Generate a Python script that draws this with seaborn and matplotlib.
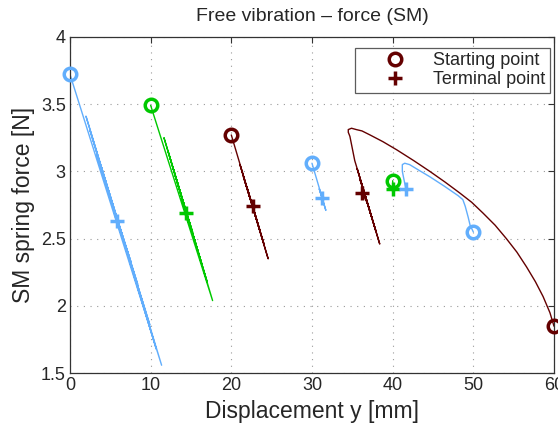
import matplotlib
matplotlib.use('Agg')
import matplotlib.pyplot as plt
import seaborn as sns
from matplotlib.lines import Line2D

# trajectories (turning points of each oscillation)
blue0_x = [0, 11.36, 1.98, 10.7, 2.5, 9.9, 3.3, 9.3, 3.9, 8.4, 4.6, 7.6, 5.1, 6.7, 5.5, 5.79]
blue0_y = [3.72, 1.56, 3.41, 1.68, 3.30, 1.86, 3.12, 1.97, 3.03, 2.16, 2.88, 2.32, 2.78, 2.47, 2.69, 2.63]

green10_x = [10, 17.68, 11.65, 17.0, 12.2, 16.4, 12.8, 15.8, 13.3, 15.2, 13.8, 14.7, 14.34]
green10_y = [3.49, 2.04, 3.25, 2.18, 3.14, 2.3, 3.02, 2.42, 2.92, 2.55, 2.8, 2.62, 2.69]

red20_x = [20, 24.57, 21.07, 24.1, 21.5, 23.6, 22.0, 23.2, 22.4, 22.64]
red20_y = [3.27, 2.35, 3.05, 2.45, 2.96, 2.55, 2.87, 2.63, 2.79, 2.74]

blue30_x = [30, 31.72, 30.9, 31.4, 31.23]
blue30_y = [3.06, 2.71, 2.87, 2.77, 2.80]

green40_x = [40, 40.07]
green40_y = [2.93, 2.87]

blue50_x = [50, 49.6, 49.36, 49.0, 48.7, 48.1, 46.4, 44.6, 43.2, 42.1, 41.5, 41.2, 41.2, 41.4, 41.64]
blue50_y = [2.55, 2.60, 2.66, 2.74, 2.79, 2.82, 2.89, 2.96, 3.01, 3.05, 3.06, 3.05, 3.00, 2.94, 2.87]

red60_x = [60, 59.5, 58.65, 57.7, 56.6, 55.4, 54.1, 52.7, 51.2, 49.8, 48.3, 46.5, 44.6, 42.6,
           40.5, 38.8, 37.2, 36.2, 35.5, 34.9, 34.5, 34.5, 34.7, 35.3,
           38.4, 35.6, 37.9, 35.9, 37.4, 36.3, 36.9, 36.2]
red60_y = [1.85, 1.95, 2.07, 2.18, 2.29, 2.40, 2.50, 2.60, 2.69, 2.77, 2.84, 2.92, 3.00, 3.08,
           3.16, 3.22, 3.27, 3.30, 3.31, 3.32, 3.31, 3.29, 3.26, 3.08,
           2.46, 3.02, 2.56, 2.95, 2.66, 2.88, 2.76, 2.84]

blue = '#62aefc'
green = '#00c800'
red = '#640000'

series = [
    (blue0_x, blue0_y, blue),
    (green10_x, green10_y, green),
    (red20_x, red20_y, red),
    (blue30_x, blue30_y, blue),
    (green40_x, green40_y, green),
    (blue50_x, blue50_y, blue),
    (red60_x, red60_y, red),
]

sns.set_style('white')
plt.rcParams['font.family'] = ['Liberation Sans', 'DejaVu Sans']

fig = plt.figure(figsize=(5.58, 4.28), dpi=100)
ax = fig.add_axes([0.1254, 0.1278, 0.8674, 0.7865])

for xs, ys, c in series:
    sns.lineplot(x=xs, y=ys, sort=False, estimator=None, color=c, linewidth=1.0, ax=ax)
    ax.plot(xs[0], ys[0], marker='o', ms=9, mew=2.5, mfc='none', mec=c, clip_on=False, zorder=5)
    ax.plot(xs[-1], ys[-1], marker='+', ms=10, mew=2.5, color=c, clip_on=False, zorder=5)

ax.set_xlim(0, 60)
ax.set_ylim(1.5, 4)
ax.set_xticks([0, 10, 20, 30, 40, 50, 60])
ax.set_yticks([1.5, 2, 2.5, 3, 3.5, 4])
ax.set_yticklabels(['1.5', '2', '2.5', '3', '3.5', '4'])
ax.grid(True, linestyle=(0, (1, 5)), color='#9a9a9a', linewidth=0.8)
ax.tick_params(direction='in', length=4, width=0.8, labelsize=13, color='#333333',
               top=True, right=True, pad=3)
for s in ax.spines.values():
    s.set_color('#333333')
    s.set_linewidth(0.9)

ax.set_xlabel('Displacement y [mm]', fontsize=16.5, labelpad=4)
ax.set_ylabel('SM spring force [N]', fontsize=16.5, labelpad=4)
ax.set_title('Free vibration \u2013 force (SM)', fontsize=14, pad=11)

handles = [
    Line2D([], [], marker='o', ms=9, mew=2.5, mfc='none', mec=red, ls='none'),
    Line2D([], [], marker='+', ms=10, mew=2.5, color=red, ls='none'),
]
leg = ax.legend(handles, ['Starting point', 'Terminal point'], loc='upper right',
                bbox_to_anchor=(0.999, 0.978), fontsize=13, frameon=True, fancybox=False,
                borderpad=0.25, labelspacing=0.1, handlelength=4.0, handletextpad=0.1,
                borderaxespad=0.2)
leg.get_frame().set_edgecolor('#333333')
leg.get_frame().set_linewidth(0.9)

fig.savefig('out.png', dpi=100)
